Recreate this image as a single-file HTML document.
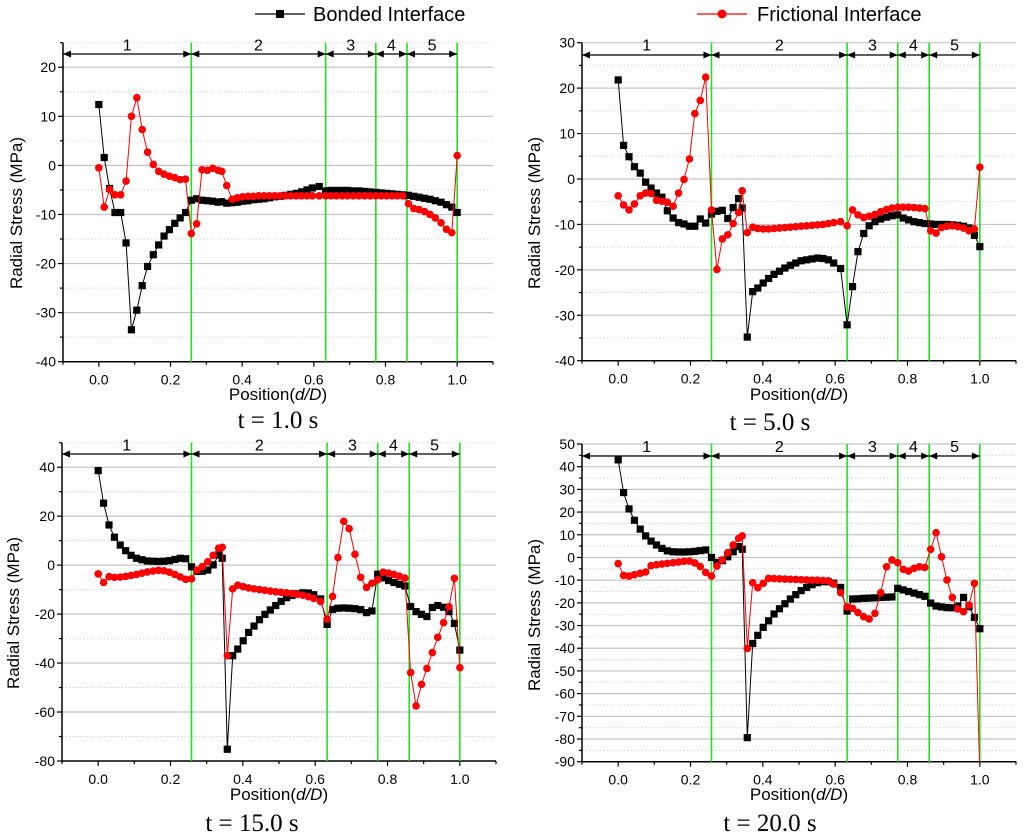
<!DOCTYPE html>
<html><head><meta charset="utf-8"><style>
html,body{margin:0;padding:0;background:#fff;}
svg{display:block;font-family:"Liberation Sans",sans-serif;}
</style></head><body>
<svg id="chart" width="1024" height="838" viewBox="0 0 1024 838" xmlns="http://www.w3.org/2000/svg">
<g>
  <g>
    <line x1="255" y1="14" x2="305" y2="14" stroke="#000" stroke-width="1.2"/>
    <rect x="276" y="10" width="8" height="8" fill="#000"/>
    <text x="313" y="21" font-size="20" fill="#000">Bonded Interface</text>
  </g>
  <g>
    <line x1="697" y1="14" x2="747" y2="14" stroke="#f00" stroke-width="1.2"/>
    <circle cx="722" cy="14" r="4.5" fill="#f00"/>
    <text x="757" y="21" font-size="20" fill="#000">Frictional Interface</text>
  </g>
</g>
</svg>
<script>
const positions = [0,0.015,0.030,0.045,0.061,0.076,0.091,0.106,0.121,0.136,0.152,0.167,0.182,0.197,0.212,0.227,0.242,
0.258,0.273,0.288,0.303,0.318,0.333,0.343,0.357,0.372,0.386,0.401,0.416,0.431,0.446,0.461,0.476,0.491,0.506,0.521,0.536,0.551,0.566,0.581,0.596,0.615,0.633,
0.648,0.663,0.679,0.694,0.710,0.726,0.742,0.757,0.773,
0.788,0.803,0.818,0.833,0.848,0.864,
0.879,0.894,0.909,0.924,0.939,0.955,0.970,0.985,1.0];
const boundaries = [0.258,0.633,0.773,0.86,1.0];
const segmentLabels = ["1","2","3","4","5"];
const xTickLabels = ["0.0","0.2","0.4","0.6","0.8","1.0"];
const titles = ["t = 1.0 s","t = 5.0 s","t = 15.0 s","t = 20.0 s"];

const bonded1 = [12.4,1.6,-4.7,-9.6,-9.6,-15.8,-33.5,-29.5,-24.5,-20.6,-18.2,-16.2,-14.4,-13.1,-11.8,-10.7,-9.6,
-7.1,-6.8,-7.1,-7.2,-7.3,-7.5,-7.4,-7.7,-7.6,-7.5,-7.3,-7.2,-7.0,-6.9,-6.8,-6.6,-6.4,-6.3,-6.1,-5.9,-5.7,-5.4,-5.0,-4.6,-4.3,-5.2,
-5.1,-5.1,-5.1,-5.1,-5.2,-5.2,-5.3,-5.4,-5.5,
-5.6,-5.7,-5.8,-5.9,-6.0,-6.1,
-6.3,-6.5,-6.7,-6.9,-7.2,-7.5,-8.0,-8.5,-9.6];
const frictional1 = [-0.5,-8.5,-4.9,-6.0,-6.0,-3.2,10.0,13.8,7.3,2.7,0.2,-1.2,-1.8,-2.2,-2.5,-2.9,-2.8,
-13.9,-11.9,-0.9,-1.0,-0.6,-1.0,-1.2,-4.1,-6.9,-6.6,-6.4,-6.3,-6.3,-6.2,-6.2,-6.2,-6.2,-6.2,-6.2,-6.2,-6.2,-6.2,-6.2,-6.2,-6.2,-6.2,
-6.2,-6.2,-6.2,-6.2,-6.2,-6.2,-6.2,-6.2,-6.2,
-6.2,-6.2,-6.2,-6.2,-6.2,-7.8,
-8.8,-9.0,-9.4,-10.0,-10.7,-11.7,-13.0,-13.7,2.0];
const bonded2 = [21.8,7.4,4.9,2.7,1.3,-0.7,-2.0,-3.1,-4.0,-7.0,-8.6,-9.6,-9.9,-10.4,-10.4,-8.8,-9.7,
-7.7,-7.1,-6.9,-8.7,-6.3,-4.3,-6.4,-34.8,-24.8,-24.0,-22.9,-21.9,-21.0,-20.3,-19.6,-19.0,-18.5,-18.0,-17.8,-17.6,-17.4,-17.5,-17.8,-18.5,-19.7,-32.1,
-23.7,-16.0,-12.0,-10.3,-9.4,-8.8,-8.4,-8.1,-7.9,
-8.6,-9.0,-9.4,-9.6,-9.8,-9.9,
-10.0,-10.0,-10.0,-10.1,-10.2,-10.4,-10.8,-12.4,-14.9];
const frictional2 = [-3.7,-5.7,-6.8,-5.5,-3.7,-3.1,-3.2,-4.7,-4.9,-5.1,-6.0,-3.1,-0.1,4.4,14.4,17.3,22.4,
-6.8,-19.9,-13.2,-12.3,-9.8,-7.4,-2.6,-11.8,-10.6,-10.9,-11.0,-11.0,-10.9,-10.8,-10.7,-10.6,-10.5,-10.4,-10.3,-10.2,-10.1,-10.0,-9.8,-9.6,-9.4,-10.3,
-6.8,-7.9,-8.5,-8.2,-7.8,-7.2,-6.7,-6.4,-6.2,
-6.2,-6.2,-6.3,-6.4,-6.5,-11.4,
-11.9,-10.7,-10.4,-10.3,-10.5,-10.8,-11.4,-11.0,2.6];
const bonded3 = [38.6,25.3,16.4,11.4,8.2,5.9,4.0,2.8,2.2,1.7,1.6,1.5,1.6,1.8,2.3,2.8,2.6,
-0.7,-2.6,-2.5,-2.0,0.1,4.2,2.8,-75.2,-37.0,-34.3,-30.9,-27.5,-24.9,-22.3,-20.1,-18.3,-16.5,-14.8,-13.3,-12.4,-11.7,-11.3,-11.4,-12.1,-13.8,-24.2,
-18.1,-17.6,-17.5,-17.6,-17.8,-18.2,-19.4,-18.7,-3.7,
-5.2,-6.3,-7.1,-7.8,-8.5,-16.9,
-19.0,-20.1,-21.0,-17.3,-16.5,-17.2,-19.0,-23.8,-34.7];
const frictional3 = [-3.6,-7.1,-4.7,-5.0,-4.9,-4.6,-4.2,-3.8,-3.3,-2.8,-2.4,-2.1,-2.3,-2.9,-3.8,-4.8,-5.8,
-5.6,-2.0,-0.6,1.4,4.0,6.9,7.3,-37.0,-9.7,-8.2,-8.8,-9.3,-9.7,-10.0,-10.3,-10.6,-10.9,-11.1,-11.3,-11.6,-11.9,-12.3,-12.9,-13.6,-14.9,-22.1,
-12.8,3.1,17.9,14.9,4.4,-5.0,-9.1,-7.4,-6.0,
-2.9,-3.3,-3.8,-4.5,-5.3,-43.9,
-57.5,-48.7,-42.2,-35.7,-29.5,-23.5,-17.0,-5.4,-41.9];
const bonded4 = [43.0,28.6,21.4,16.4,12.5,9.5,7.2,5.5,4.0,2.9,2.5,2.4,2.4,2.5,2.7,3.0,3.3,
0,-2.2,-1.4,0.3,2.5,4.8,3.6,-79.4,-37.9,-34.3,-30.8,-27.9,-24.9,-22.6,-20.4,-18.3,-16.4,-14.6,-13.2,-12.0,-11.1,-10.7,-10.7,-11.3,-13.2,-23.6,
-18.3,-18.2,-18.0,-17.9,-17.8,-17.6,-17.5,-17.4,-13.6,
-14.3,-15.0,-15.7,-16.4,-17.1,-20.1,
-21.4,-21.8,-22.1,-22.2,-21.4,-17.6,-21.7,-26.4,-31.4];
const frictional4 = [-2.7,-7.9,-8.2,-7.6,-7.0,-6.4,-3.6,-3.2,-2.9,-2.6,-2.3,-2.0,-1.7,-1.6,-2.4,-4.0,-6.6,
-8.2,-3.8,-1.1,2.1,5.5,8.4,9.5,-40.1,-11.1,-13.3,-11.4,-9.2,-9.3,-9.4,-9.5,-9.6,-9.7,-9.8,-9.9,-10.0,-10.0,-10.1,-10.3,-11.7,-15.5,-21.8,
-22.4,-24.3,-26.1,-27.1,-24.6,-15.5,-4.1,-1.1,-2.3,
-5.2,-6.0,-4.8,-4.1,-4.4,3.6,
10.9,0.3,-9.9,-17.6,-22.7,-23.9,-21.0,-11.4,-95];

const bondedSeries = [bonded1,bonded2,bonded3,bonded4];
const frictionalSeries = [frictional1,frictional2,frictional3,frictional4];

const panels = [
 {left:63,right:493,top:42.7,bottom:361.7,yMin:-40,yMax:25,step:10,labelTop:20,arrowY:54,tX:278,tY:428,xtY:400,ytX:22,ytY:213},
 {left:582,right:1016,top:42.7,bottom:360.7,yMin:-40,yMax:30,step:10,labelTop:30,arrowY:55,tX:770,tY:430,xtY:400,ytX:540,ytY:213},
 {left:62,right:496,top:442.7,bottom:761,yMin:-80,yMax:50,step:20,labelTop:40,arrowY:454,tX:252,tY:831,xtY:800,ytX:19,ytY:613},
 {left:582,right:1016,top:444,bottom:761.7,yMin:-90,yMax:50,step:10,labelTop:50,arrowY:456,tX:770,tY:831,xtY:800,ytX:540,ytY:615}
];
const NS="http://www.w3.org/2000/svg";
const svg=document.getElementById('chart');
function mk(tag,attrs,parent){const e=document.createElementNS(NS,tag);for(const k in attrs)e.setAttribute(k,attrs[k]);parent.appendChild(e);return e;}

panels.forEach((p,pi)=>{
  const g=mk('g',{},svg);
  
  
  const sx=v=>p.left+(v+0.1)/1.2*(p.right-p.left);
  const sy=v=>p.bottom-(v-p.yMin)/(p.yMax-p.yMin)*(p.bottom-p.top);
  // grid
  const grid=mk('g',{},g);
  
  
  for(let v=p.yMin;v<=p.yMax+1e-6;v+=p.step/2){
    if(Math.abs(v-p.yMin)<1e-6) continue;
    const major=Math.abs(Math.round(v/p.step)*p.step-v)<1e-6;
    mk('line',{x1:p.left,x2:p.right,y1:sy(v),y2:sy(v),stroke:major?'#c4c4c4':'#d8d8d8','stroke-width':major?1.2:1,'stroke-dasharray':major?'':'1.5,2'},grid);
  }
  // axes
  const ax=mk('g',{stroke:'#000','stroke-width':1.5},g);
  
  
  mk('line',{x1:p.left,x2:p.left,y1:p.top,y2:p.bottom},ax);
  mk('line',{x1:p.left,x2:p.right,y1:p.bottom,y2:p.bottom},ax);
  // y ticks
  for(let v=p.yMin;v<=p.yMax+1e-6;v+=p.step/2){
    const major=Math.abs(Math.round(v/p.step)*p.step-v)<1e-6;
    mk('line',{x1:p.left-(major?5:3),x2:p.left,y1:sy(v),y2:sy(v),'stroke-width':1.2},ax);
    if(major && v<=p.labelTop+1e-6){
      const t=mk('text',{x:p.left-7,y:sy(v)+5,'text-anchor':'end','font-size':14,fill:'#000',stroke:'none'},g);
      t.textContent=String(v);
      
      
    }
  }
  // x ticks
  for(let k=-1;k<=11;k++){
    const v=k/10;const major=k%2===0&&k>=0;
    mk('line',{x1:sx(v),x2:sx(v),y1:p.bottom,y2:p.bottom+(major?5:3),'stroke-width':1.2},ax);
  }
  xTickLabels.forEach((lab,i)=>{
    const t=mk('text',{x:sx(i*0.2),y:p.bottom+23,'text-anchor':'middle','font-size':14,fill:'#000'},g);
    t.textContent=lab;
    
    
  });
  // axis titles
  const xt=mk('text',{x:sx(0.5),y:p.xtY,'text-anchor':'middle','font-size':17,fill:'#000'},g);
  xt.innerHTML='Position(<tspan font-style="italic">d/D</tspan>)';
  
  
  const yt=mk('text',{x:0,y:0,'text-anchor':'middle','font-size':17,fill:'#000',transform:`translate(${p.ytX},${p.ytY}) rotate(-90)`},g);
  yt.textContent='Radial Stress (MPa)';
  
  
  // panel title
  const tt=mk('text',{x:p.tX,y:p.tY,'text-anchor':'middle','font-size':25,fill:'#000','font-family':'"Liberation Serif",serif'},g);
  tt.textContent=titles[pi];
  
  
  // boundaries
  boundaries.forEach(b=>{
    const l=mk('line',{x1:sx(b),x2:sx(b),y1:p.top,y2:p.bottom,stroke:'#22e022','stroke-width':1.6},g);
    
    
  });
  // segment arrows
  const starts=[-0.1].concat(boundaries.slice(0,4));
  starts.forEach((s,i)=>{
    const e=boundaries[i];const x1=sx(s),x2=sx(e),y=p.arrowY;
    const ag=mk('g',{},g);
    
    
    mk('line',{x1:x1,x2:x2,y1:y,y2:y,stroke:'#000','stroke-width':1.3},ag);
    mk('path',{d:`M${x1},${y} l8,-3.5 l0,7 z`,fill:'#000'},ag);
    mk('path',{d:`M${x2},${y} l-8,-3.5 l0,7 z`,fill:'#000'},ag);
    const t=mk('text',{x:(x1+x2)/2,y:p.top+8,'text-anchor':'middle','font-size':16,fill:'#000'},ag);
    t.textContent=segmentLabels[i];
  });
  // clip
  const cp=mk('clipPath',{id:'clip'+pi},g);
  mk('rect',{x:p.left-6,y:p.top-6,width:p.right-p.left+12,height:p.bottom-p.top+6},cp);
  const data=mk('g',{'clip-path':`url(#clip${pi})`},g);
  const drawSeries=(vals,color,shape,name)=>{
    const sg=mk('g',{},data);
    
    
    const d=vals.map((v,i)=>(i?'L':'M')+sx(positions[i]).toFixed(1)+','+sy(v).toFixed(1)).join(' ');
    mk('path',{d:d,fill:'none',stroke:color,'stroke-width':1},sg);
    vals.forEach((v,i)=>{
      let m;
      if(shape==='sq') m=mk('rect',{x:sx(positions[i])-3.6,y:sy(v)-3.6,width:7.2,height:7.2,fill:color},sg);
      else m=mk('circle',{cx:sx(positions[i]),cy:sy(v),r:3.8,fill:color},sg);
      
      
    });
  };
  drawSeries(bondedSeries[pi],'#000','sq','bonded-series');
  drawSeries(frictionalSeries[pi],'#f00','ci','frictional-series');
});
</script>
</body></html>
